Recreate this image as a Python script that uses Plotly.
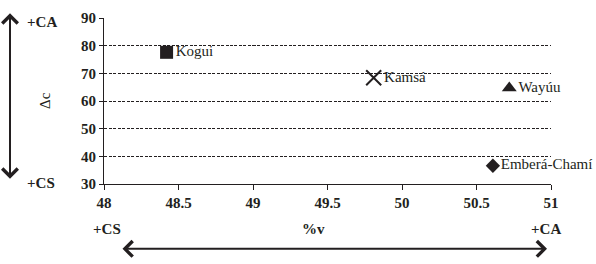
import plotly.graph_objects as go

groups = ["Kogui", "Kamsá", "Wayúu", "Emberá-Chamí"]
pct_v = [48.42, 49.81, 50.72, 50.61]
delta_c = [77.6, 68.4, 64.7, 36.6]
symbols = ["square", "x-thin", "triangle-up", "diamond"]
sizes = [13, 15, 13, 11]

x_ticks = [48, 48.5, 49, 49.5, 50, 50.5, 51]
y_ticks = [30, 40, 50, 60, 70, 80, 90]

FONT = "Liberation Serif, Times New Roman, serif"
INK = "#231f20"

fig = go.Figure()
for g, xv, yv, s, sz in zip(groups, pct_v, delta_c, symbols, sizes):
    fig.add_trace(go.Scatter(
        x=[xv], y=[yv], mode="markers+text", text=[g],
        textposition="middle right",
        textfont=dict(family=FONT, size=15, color=INK),
        marker=dict(symbol=s, size=sz, color=INK,
                    line=dict(color=INK, width=2 if s == "x-thin" else 0)),
        showlegend=False, cliponaxis=False,
    ))

fig.update_layout(
    width=596, height=264,
    margin=dict(l=104, r=45, t=10, b=80),
    paper_bgcolor="white", plot_bgcolor="white",
    font=dict(family=FONT, size=15, color=INK),
    xaxis=dict(range=[48, 51], tickvals=x_ticks, showgrid=False, zeroline=False,
               showline=True, linecolor=INK, linewidth=1,
               ticks="outside", ticklen=5, tickcolor=INK,
               tickfont=dict(family=FONT, size=15, color=INK, weight="bold")),
    yaxis=dict(range=[30, 90], tickvals=y_ticks, showgrid=True, gridcolor=INK,
               griddash="3px,1.5px", gridwidth=1, zeroline=False,
               showline=True, linecolor=INK, linewidth=1,
               ticks="outside", ticklen=4, tickcolor=INK,
               tickfont=dict(family=FONT, size=15, color=INK, weight="bold")),
)

# axis titles and direction labels
W, H = 447, 174  # plot area size in px
def px(xp):
    return (xp - 104) / W
def py(yp):
    return (184 - yp) / H

texts = [
    ("Δc", 45, 97, False, -90),
    ("+CA", 42, 14, True, 0),
    ("+CS", 41, 183, True, 0),
    ("+CS", 107, 231, True, 0),
    ("%v", 313, 231, True, 0),
    ("+CA", 546, 231, True, 0),
]
for t, xp, yp, bold, ang in texts:
    fig.add_annotation(
        x=px(xp), y=py(yp), xref="paper", yref="paper", text=t,
        showarrow=False, textangle=ang, xanchor="center", yanchor="middle",
        font=dict(family=FONT, size=15, color=INK,
                  weight="bold" if bold else "normal"),
    )

# double-headed arrows
fig.add_annotation(x=px(10), y=py(5), xref="paper", yref="paper",
                   ax=0, ay=167, axref="pixel", ayref="pixel", text="",
                   showarrow=True, arrowside="end+start", arrowhead=4,
                   startarrowhead=4, arrowsize=1.5, startarrowsize=1.5,
                   arrowwidth=2, arrowcolor=INK)
fig.add_annotation(x=px(547), y=py(252), xref="paper", yref="paper",
                   ax=-426, ay=0, axref="pixel", ayref="pixel", text="",
                   showarrow=True, arrowside="end+start", arrowhead=4,
                   startarrowhead=4, arrowsize=1.5, startarrowsize=1.5,
                   arrowwidth=2, arrowcolor=INK)

fig.write_html(
    "out.html",
    config={"displayModeBar": False},
    post_script="document.body.style.margin='0';document.body.style.overflow='hidden';",
)
